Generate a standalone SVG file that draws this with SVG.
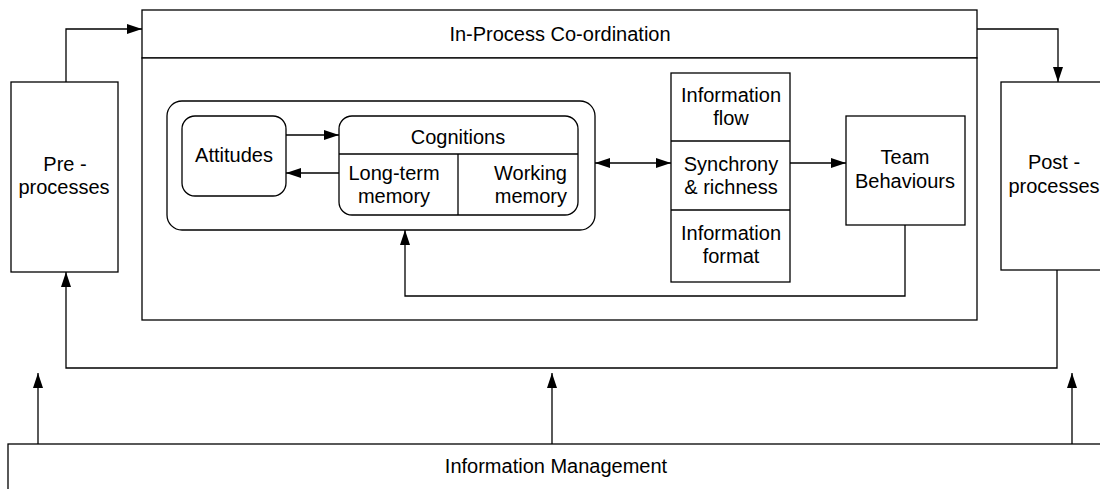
<svg xmlns="http://www.w3.org/2000/svg" width="1100" height="489" viewBox="0 0 1100 489">
  <style>
    .box { fill: #fff; stroke: #000; stroke-width: 1.3; }
    .ln { fill: none; stroke: #000; stroke-width: 1.3; }
    .wire { fill: none; stroke: #000; stroke-width: 1.3; marker-end: url(#arr); }
    text { font-family: "Liberation Sans", Arial, sans-serif; font-size: 20px; fill: #000; text-anchor: middle; }
  </style>
  <defs>
    <marker id="arr" markerUnits="userSpaceOnUse" markerWidth="16" markerHeight="11" refX="15" refY="5" orient="auto-start-reverse">
      <path d="M0,0 L15,5 L0,10 Z" fill="#000"/>
    </marker>
  </defs>
  <rect width="1100" height="489" fill="#fff"/>

  <g id="pre-processes">
    <rect class="box" x="11" y="82" width="107" height="190"/>
    <text x="65" y="171">Pre -</text>
    <text x="64" y="194">processes</text>
  </g>

  <g id="post-processes">
    <rect class="box" x="1001" y="82" width="120" height="188"/>
    <text x="1054" y="169">Post -</text>
    <text x="1054" y="193">processes</text>
  </g>

  <g id="in-process-coordination">
    <rect class="box" x="142" y="10" width="835" height="48"/>
    <text x="560" y="41">In-Process Co-ordination</text>
    <rect class="box" x="142" y="58" width="835" height="262"/>
  </g>

  <g id="individual-factors">
    <rect class="box" x="167" y="101" width="428" height="129" rx="15"/>
  </g>

  <g id="attitudes">
    <rect class="box" x="182" y="116" width="104" height="80" rx="13"/>
    <text x="234" y="162">Attitudes</text>
  </g>

  <g id="cognitions">
    <rect class="box" x="339" y="116" width="239" height="99" rx="13"/>
    <line class="ln" x1="339" y1="154" x2="578" y2="154"/>
    <line class="ln" x1="458" y1="154" x2="458" y2="215"/>
    <text x="458" y="144">Cognitions</text>
    <text x="394" y="180">Long-term</text>
    <text x="394" y="203">memory</text>
    <text x="567" y="180" style="text-anchor:end">Working</text>
    <text x="567" y="203" style="text-anchor:end">memory</text>
  </g>

  <g id="information">
    <rect class="box" x="671" y="73" width="119" height="209"/>
    <line class="ln" x1="671" y1="141" x2="790" y2="141"/>
    <line class="ln" x1="671" y1="210" x2="790" y2="210"/>
    <text x="731" y="102">Information</text>
    <text x="731" y="125">flow</text>
    <text x="731" y="171">Synchrony</text>
    <text x="731" y="194">&amp; richness</text>
    <text x="731" y="240">Information</text>
    <text x="731" y="263">format</text>
  </g>

  <g id="team-behaviours">
    <rect class="box" x="846" y="116" width="119" height="109"/>
    <text x="905" y="164">Team</text>
    <text x="905" y="188">Behaviours</text>
  </g>

  <g id="information-management">
    <rect class="box" x="8" y="444" width="1110" height="60"/>
    <text x="556" y="473">Information Management</text>
  </g>

  <g id="connectors">
    <path class="wire" d="M66,82 V29 H142"/>
    <path class="wire" d="M977,29 H1058 V82"/>
    <path class="wire" d="M286,135 H339"/>
    <path class="wire" d="M339,173 H286"/>
    <path class="wire" d="M595,163 H671" style="marker-start:url(#arr)"/>
    <path class="wire" d="M790,163 H846"/>
    <path class="wire" d="M905,225 V296 H405 V230"/>
    <path class="wire" d="M1057,270 V368 H66 V272"/>
    <path class="wire" d="M38,444 V373"/>
    <path class="wire" d="M552,444 V373"/>
    <path class="wire" d="M1072,444 V373"/>
  </g>
</svg>
